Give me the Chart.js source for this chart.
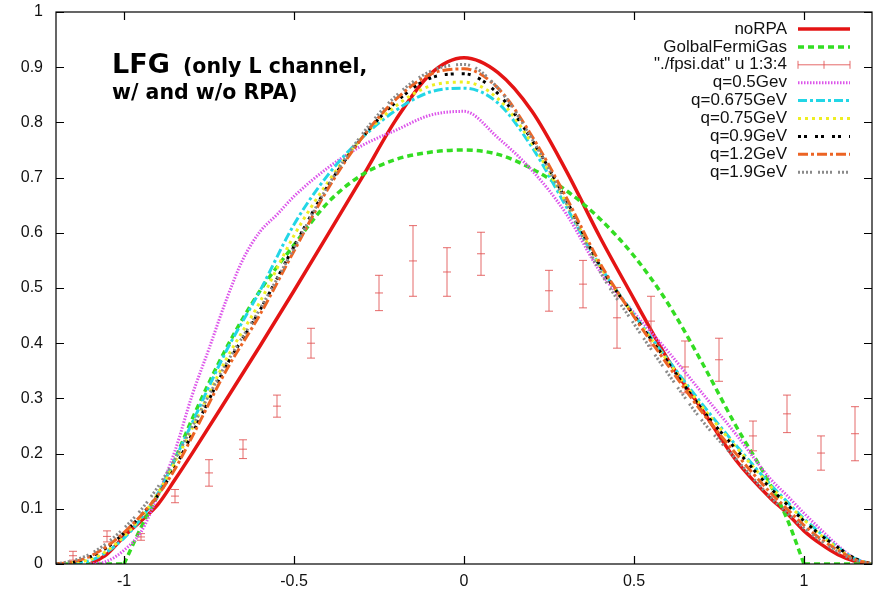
<!DOCTYPE html>
<html>
<head>
<meta charset="utf-8">
<title>LFG longitudinal response</title>
<script src="https://cdn.jsdelivr.net/npm/chart.js@4/dist/chart.umd.min.js"></script>
<style>
  html, body { margin: 0; padding: 0; background: #fff; }
  canvas { display: block; }
</style>
</head>
<body>
<canvas id="chart" width="877" height="594"></canvas>
<script>
// sample grid shared by most model curves
const xs = [-1.2, -1.15, -1.1, -1.05, -1.0, -0.95, -0.9, -0.85, -0.8, -0.7, -0.6, -0.5, -0.4, -0.3, -0.2, -0.1,
  0, 0.1, 0.2, 0.3, 0.4, 0.5, 0.6, 0.7, 0.8, 0.9, 0.95, 1.0, 1.05, 1.1, 1.15, 1.2];

const noRPA = [null, null, 0, 0.018, 0.05, 0.078, 0.108, 0.153, 0.2, 0.297, 0.395, 0.495, 0.597, 0.70, 0.805, 0.887,
  0.917, 0.89, 0.82, 0.713, 0.592, 0.48, 0.37, 0.28, 0.188, 0.12, 0.092, 0.06, 0.036, 0.017, 0.005, 0];
const q0675 = [0, 0.002, 0.006, 0.022, 0.047, 0.082, 0.128, 0.19, 0.255, 0.385, 0.495, 0.615, 0.705, 0.772, 0.822, 0.855,
  0.862, 0.835, 0.755, 0.648, 0.54, 0.452, 0.37, 0.29, 0.215, 0.145, 0.113, 0.082, 0.055, 0.03, 0.01, 0];
const q075 = [0, 0.003, 0.008, 0.024, 0.05, 0.085, 0.128, 0.185, 0.245, 0.37, 0.475, 0.595, 0.692, 0.772, 0.83, 0.866,
  0.873, 0.843, 0.762, 0.655, 0.54, 0.45, 0.367, 0.285, 0.212, 0.142, 0.11, 0.08, 0.052, 0.028, 0.009, 0];
const q090 = [0, 0.003, 0.013, 0.03, 0.056, 0.088, 0.125, 0.175, 0.235, 0.358, 0.46, 0.575, 0.685, 0.772, 0.837, 0.88,
  0.888, 0.852, 0.768, 0.66, 0.54, 0.45, 0.365, 0.28, 0.208, 0.138, 0.108, 0.078, 0.052, 0.03, 0.01, 0];
const q120 = [0, 0.004, 0.014, 0.032, 0.057, 0.088, 0.125, 0.172, 0.23, 0.35, 0.452, 0.567, 0.68, 0.772, 0.842, 0.887,
  0.897, 0.862, 0.775, 0.665, 0.545, 0.448, 0.36, 0.275, 0.2, 0.13, 0.1, 0.07, 0.045, 0.025, 0.008, 0];
const q190 = [0, 0.006, 0.018, 0.038, 0.065, 0.098, 0.14, 0.19, 0.248, 0.362, 0.462, 0.572, 0.685, 0.778, 0.848, 0.892,
  0.905, 0.862, 0.77, 0.655, 0.53, 0.435, 0.345, 0.26, 0.19, 0.122, 0.093, 0.065, 0.042, 0.022, 0.007, 0];

// q=0.5 bends sharply on the left flank, so it gets a finer grid there
const q050X = [-1.1, -1.05, -1.0, -0.95, -0.9, -0.85, -0.8, -0.75, -0.7, -0.65, -0.6, -0.55, -0.5, -0.4, -0.3, -0.2, -0.1,
  0, 0.1, 0.2, 0.3, 0.4, 0.5, 0.6, 0.7, 0.8, 0.9, 0.95, 1.0, 1.05, 1.1, 1.15, 1.2];
const q050 = [0, 0.005, 0.025, 0.058, 0.125, 0.205, 0.305, 0.39, 0.477, 0.552, 0.602, 0.633, 0.666, 0.718, 0.758, 0.786, 0.813,
  0.82, 0.772, 0.713, 0.635, 0.53, 0.455, 0.385, 0.31, 0.235, 0.155, 0.124, 0.092, 0.062, 0.033, 0.01, 0];

// global Fermi gas: parabola-like inside |x| < 1, zero outside
const gfgX = [-1.0, -0.95, -0.9, -0.85, -0.8, -0.7, -0.6, -0.5, -0.4, -0.3, -0.2, -0.1,
  0, 0.1, 0.2, 0.3, 0.4, 0.5, 0.6, 0.7, 0.8, 0.9, 0.95, 1.0];
const gfg = [0, 0.066, 0.125, 0.19, 0.262, 0.39, 0.495, 0.578, 0.655, 0.705, 0.733, 0.746,
  0.75, 0.742, 0.716, 0.677, 0.625, 0.558, 0.472, 0.365, 0.25, 0.145, 0.082, 0];
const gfgFloorX = [-1.2, -1.0, 1.0, 1.2];

// measured points from ./fpsi.dat (columns 1:3:4)
const fpsiX = [-1.15, -1.05, -0.95, -0.85, -0.75, -0.65, -0.55, -0.45, -0.25, -0.15, -0.05, 0.05,
  0.25, 0.35, 0.45, 0.55, 0.65, 0.75, 0.85, 0.95, 1.05, 1.15];
const fpsiY = [0.015, 0.05, 0.049, 0.123, 0.165, 0.208, 0.286, 0.40, 0.491, 0.549, 0.529, 0.562,
  0.495, 0.507, 0.446, 0.44, 0.357, 0.37, 0.232, 0.272, 0.201, 0.236];
const fpsiErr = [0.008, 0.01, 0.006, 0.012, 0.024, 0.017, 0.02, 0.027, 0.032, 0.064, 0.044, 0.039,
  0.037, 0.043, 0.055, 0.045, 0.047, 0.039, 0.027, 0.034, 0.031, 0.049];

const xTicks = [-1, -0.5, 0, 0.5, 1];
const titleMain = "LFG";
const titleLine1 = "(only L channel,";
const titleLine2 = "w/ and w/o RPA)";

const FONT = "'Liberation Sans', Arial, sans-serif";
const ERR_COLOR = "rgba(225,80,80,0.85)";
const GFG_COLOR = "#33dd22";

function curve(label, xv, values, color, width, dash, extra) {
  return Object.assign({
    type: "line",
    label: label,
    data: xv.map((x, i) => ({ x: x, y: values[i] })),
    borderColor: color,
    backgroundColor: color,
    borderWidth: width,
    borderDash: dash,
    pointRadius: 0,
    fill: false,
    spanGaps: false,
    cubicInterpolationMode: "monotone",
  }, extra || {});
}

// flat zero stretches of the Fermi gas curve, drawn straight
const gfgFloor = [
  { x: gfgFloorX[0], y: 0 }, { x: gfgFloorX[1], y: 0 },
  { x: 0, y: null },
  { x: gfgFloorX[2], y: 0 }, { x: gfgFloorX[3], y: 0 },
];

const datasets = [
  curve("noRPA", xs, noRPA, "#e41414", 3.5, []),
  curve("GolbalFermiGas", gfgX, gfg, GFG_COLOR, 3.5, [6, 4]),
  {
    type: "scatter",
    label: "\"./fpsi.dat\" u 1:3:4",
    data: fpsiX.map((x, i) => ({ x: x, y: fpsiY[i] })),
    borderColor: ERR_COLOR,
    backgroundColor: ERR_COLOR,
    pointRadius: 0,
    showLine: false,
    isErrorSet: true,
  },
  curve("q=0.5Gev", q050X, q050, "#dc55ea", 3, [1.5, 1.5]),
  curve("q=0.675GeV", xs, q0675, "#22d6e6", 3, [9, 3, 3, 3]),
  curve("q=0.75GeV", xs, q075, "#eeee22", 3, [3, 4]),
  curve("q=0.9GeV", xs, q090, "#000000", 3, [3, 3, 3, 8]),
  curve("q=1.2GeV", xs, q120, "#ec6424", 3, [10, 3, 3, 3]),
  curve("q=1.9GeV", xs, q190, "#8a8a8a", 3, [2, 2, 2, 2, 2, 2, 2, 6]),
];
// later series are painted over earlier ones
datasets.forEach((d, i) => { d.order = datasets.length - i + 1; });
datasets.push({
  type: "line",
  label: "",
  data: gfgFloor,
  borderColor: GFG_COLOR,
  borderWidth: 3.5,
  borderDash: [6, 4],
  pointRadius: 0,
  tension: 0,
  spanGaps: false,
  order: datasets.length,
  noKey: true,
});

const errorBars = {
  id: "errorBars",
  afterDatasetDraw(chart, args) {
    const ds = chart.data.datasets[args.index];
    if (!ds.isErrorSet) return;
    const ctx = chart.ctx;
    const y = chart.scales.y;
    const cap = 4;
    ctx.save();
    ctx.beginPath();
    ctx.rect(chart.chartArea.left, chart.chartArea.top, chart.chartArea.width, chart.chartArea.height);
    ctx.clip();
    ctx.strokeStyle = ERR_COLOR;
    ctx.lineWidth = 1;
    args.meta.data.forEach((el, i) => {
      const top = y.getPixelForValue(fpsiY[i] + fpsiErr[i]);
      const bot = y.getPixelForValue(fpsiY[i] - fpsiErr[i]);
      ctx.beginPath();
      ctx.moveTo(el.x, top); ctx.lineTo(el.x, bot);
      ctx.moveTo(el.x - cap, top); ctx.lineTo(el.x + cap, top);
      ctx.moveTo(el.x - cap, bot); ctx.lineTo(el.x + cap, bot);
      ctx.moveTo(el.x - cap, el.y); ctx.lineTo(el.x + cap, el.y);
      ctx.stroke();
    });
    ctx.restore();
  },
};

// gnuplot style frame with inward ticks on all four sides
const frame = {
  id: "frame",
  afterDraw(chart) {
    const { ctx, chartArea: a, scales } = chart;
    const len = 8;
    ctx.save();
    ctx.strokeStyle = "#000";
    ctx.lineWidth = 1.2;
    ctx.setLineDash([]);
    ctx.strokeRect(a.left, a.top, a.right - a.left, a.bottom - a.top);
    ctx.beginPath();
    scales.x.ticks.forEach(t => {
      const px = Math.round(scales.x.getPixelForValue(t.value)) + 0.5;
      ctx.moveTo(px, a.bottom); ctx.lineTo(px, a.bottom - len);
      ctx.moveTo(px, a.top); ctx.lineTo(px, a.top + len);
    });
    scales.y.ticks.forEach(t => {
      const py = Math.round(scales.y.getPixelForValue(t.value)) + 0.5;
      ctx.moveTo(a.left, py); ctx.lineTo(a.left + len, py);
      ctx.moveTo(a.right, py); ctx.lineTo(a.right - len, py);
    });
    ctx.stroke();
    ctx.restore();
  },
};

const keyBox = {
  id: "keyBox",
  afterDraw(chart) {
    const { ctx, chartArea: a } = chart;
    const sampleEnd = a.right - 22;
    const sampleStart = sampleEnd - 52;
    const textRight = sampleStart - 11;
    ctx.save();
    ctx.font = "17px " + FONT;
    ctx.textAlign = "right";
    ctx.textBaseline = "middle";
    chart.data.datasets.filter(ds => !ds.noKey).forEach((ds, i) => {
      const yRow = a.top + 17 + i * 17.9;
      ctx.fillStyle = "#111";
      ctx.fillText(ds.label, textRight, yRow);
      ctx.beginPath();
      if (ds.isErrorSet) {
        ctx.strokeStyle = ERR_COLOR;
        ctx.lineWidth = 1;
        ctx.setLineDash([]);
        ctx.moveTo(sampleStart, yRow); ctx.lineTo(sampleEnd, yRow);
        [sampleStart, (sampleStart + sampleEnd) / 2, sampleEnd].forEach(px => {
          ctx.moveTo(px, yRow - 4); ctx.lineTo(px, yRow + 4);
        });
      } else {
        ctx.strokeStyle = ds.borderColor;
        ctx.lineWidth = ds.borderWidth;
        ctx.setLineDash(ds.borderDash);
        ctx.moveTo(sampleStart, yRow); ctx.lineTo(sampleEnd, yRow);
      }
      ctx.stroke();
    });
    ctx.restore();
  },
};

const heading = {
  id: "heading",
  afterDraw(chart) {
    const ctx = chart.ctx;
    ctx.save();
    ctx.fillStyle = "#000";
    ctx.textAlign = "left";
    ctx.textBaseline = "alphabetic";
    ctx.font = "bold 27px 'DejaVu Sans', sans-serif";
    ctx.fillText(titleMain, 112, 73);
    ctx.font = "bold 20.5px 'DejaVu Sans', sans-serif";
    ctx.fillText(titleLine1, 183, 73);
    ctx.fillText(titleLine2, 112, 99);
    ctx.restore();
  },
};

new Chart(document.getElementById("chart"), {
  type: "line",
  data: { datasets: datasets },
  options: {
    responsive: false,
    animation: false,
    events: [],
    layout: { padding: { left: 0, right: 5, top: 12, bottom: 0 } },
    plugins: {
      legend: { display: false },
      title: { display: false },
      tooltip: { enabled: false },
    },
    scales: {
      x: {
        type: "linear",
        min: -1.2,
        max: 1.2,
        grid: { display: false, drawTicks: false },
        border: { display: false },
        afterFit: s => { s.height = 30; s.paddingLeft = 0; s.paddingRight = 0; },
        afterBuildTicks: s => { s.ticks = xTicks.map(v => ({ value: v })); },
        ticks: {
          padding: 8,
          color: "#111",
          font: { family: FONT, size: 16 },
          callback: v => String(v),
        },
      },
      y: {
        min: 0,
        max: 1,
        grid: { display: false, drawTicks: false },
        border: { display: false },
        afterFit: s => { s.width = 56; s.paddingTop = 0; s.paddingBottom = 0; },
        ticks: {
          stepSize: 0.1,
          padding: 13,
          color: "#111",
          font: { family: FONT, size: 16 },
          callback: v => String(Math.round(v * 10) / 10),
        },
      },
    },
  },
  plugins: [errorBars, frame, keyBox, heading],
});
</script>
</body>
</html>
